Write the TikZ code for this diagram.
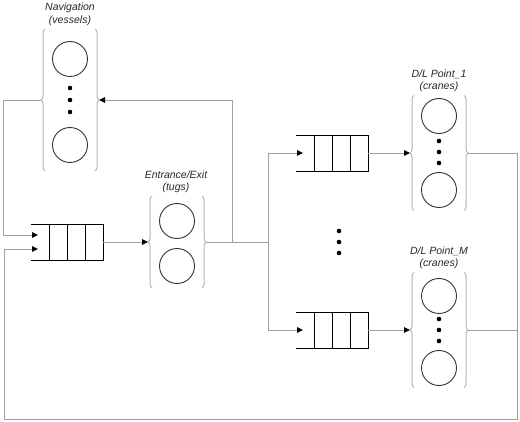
\documentclass[tikz,border=0pt]{standalone}
\usepackage{fontspec}
\setmainfont{Liberation Sans}
\usetikzlibrary{arrows.meta,decorations.pathreplacing,calc}
\definecolor{conncol}{HTML}{A0A0A0}
\definecolor{bracecol}{HTML}{B4B4B4}
\definecolor{circcol}{HTML}{333333}
\begin{document}
\begin{tikzpicture}[x=1pt,y=-1pt,
  conn/.style={draw=conncol,line width=0.9pt},
  arr/.style={-{Triangle[length=6pt,width=5.5pt,fill=black,color=black]}},
  grp/.style={minimum width=50pt,inner sep=0pt,outer sep=0pt},
  brc/.style={draw=bracecol,line width=1pt,decorate,decoration={brace,amplitude=4pt,aspect=0.5}},
  srv/.style={circle,draw=circcol,line width=0.9pt,minimum size=35pt,inner sep=0pt},
  dotn/.style={circle,fill=black,minimum size=4.6pt,inner sep=0pt},
  qbox/.style={minimum width=72pt,minimum height=36pt,inner sep=0pt,outer sep=0pt},
  qline/.style={draw=black,line width=0.9pt},
  lab/.style={font=\fontsize{10.5}{12}\selectfont\itshape,text=black!85,inner sep=0pt}
]
\useasboundingbox (0,0) rectangle (520,422);

% ---- groups (brace boxes)
\node[grp,minimum height=142pt] (nav) at (70,100) {};
\node[grp,minimum height=92pt]  (ent) at (177,242) {};
\node[grp,minimum height=115pt] (dl1) at (439,153) {};
\node[grp,minimum height=115pt] (dlm) at (439,330) {};
\foreach \g in {nav,ent,dl1,dlm}{
  \draw[brc] (\g.south west) -- (\g.north west);
  \draw[brc] (\g.north east) -- (\g.south east);
}

% ---- servers
\node[srv] (nav1) at (70,59) {};
\node[srv] (nav2) at (70,145) {};
\node[dotn] (navd1) at (70,88) {};
\node[dotn] (navd2) at (70,100) {};
\node[dotn] (navd3) at (70,112) {};

\node[srv] (ent1) at (177,221) {};
\node[srv] (ent2) at (177,266) {};

\node[srv] (dl1a) at (439,116) {};
\node[srv] (dl1b) at (439,190) {};
\node[dotn] (dl1d1) at (439,141) {};
\node[dotn] (dl1d2) at (439,152) {};
\node[dotn] (dl1d3) at (439,163) {};

\node[srv] (dlma) at (439,296) {};
\node[srv] (dlmb) at (439,368) {};
\node[dotn] (dlmd1) at (439,319) {};
\node[dotn] (dlmd2) at (439,330) {};
\node[dotn] (dlmd3) at (439,341) {};

\node[dotn] (md1) at (339,231) {};
\node[dotn] (md2) at (339,242) {};
\node[dotn] (md3) at (339,253) {};

% ---- labels
\node[lab] (navl) at (70,8) {Navigation};
\node[lab] (navs) at (70,21) {(vessels)};
\node[lab] (entl) at (176,175) {Entrance/Exit};
\node[lab] (ents) at (176,188) {(tugs)};
\node[lab] (dl1l) at (439,74) {D/L Point\_1};
\node[lab] (dl1s) at (439,87) {(cranes)};
\node[lab] (dlml) at (439,251) {D/L Point\_M};
\node[lab] (dlms) at (439,264) {(cranes)};

% ---- queues
\node[qbox] (q0) at (67,242) {};
\node[qbox] (q1) at (332,153) {};
\node[qbox] (qm) at (332,330) {};
\foreach \q in {q0,q1,qm}{
  \draw[qline] (\q.north west) -- (\q.north east) -- (\q.south east) -- (\q.south west);
  \foreach \f in {0.25,0.5,0.75}
    \draw[qline] ($(\q.north west)!\f!(\q.north east)$) -- ($(\q.south west)!\f!(\q.south east)$);
}

% ---- helper coordinates
\coordinate (jn) at (232,242);
\coordinate (sp) at (268,242);
\coordinate (lx) at (3,0);
\coordinate (rb) at (517,419);
\coordinate (lb) at (4,419);
\coordinate (navtip) at ([xshift=-4pt]nav.west);
\coordinate (q0in1) at ([xshift=7pt,yshift=7pt]q0.west);
\coordinate (q0in2) at ([xshift=7pt,yshift=-7pt]q0.west);

% ---- connectors
\draw[conn,arr] (q0.east) -- ([xshift=-4pt]ent.west);
\draw[conn] ([xshift=4pt]ent.east) -- (sp);
\draw[conn,arr] (jn) |- ([xshift=4pt]nav.east);
\draw[conn,arr] (navtip) -- (navtip -| lx) |- (q0in1);
\draw[conn,arr] (sp) |- ([xshift=7pt]q1.west);
\draw[conn,arr] (sp) |- ([xshift=7pt]qm.west);
\draw[conn,arr] (q1.east) -- ([xshift=-4pt]dl1.west);
\draw[conn,arr] (qm.east) -- ([xshift=-4pt]dlm.west);
\draw[conn] ([xshift=4pt]dlm.east) -| (rb);
\draw[conn,arr] ([xshift=4pt]dl1.east) -| (rb) -- (lb) |- (q0in2);
\end{tikzpicture}
\end{document}
